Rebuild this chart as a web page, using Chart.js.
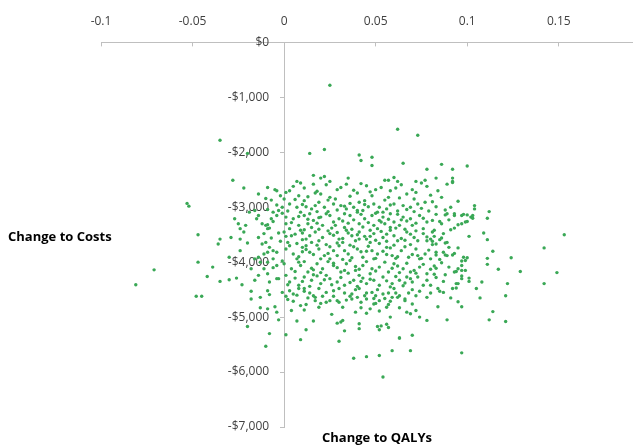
<!DOCTYPE html>
<html>
<head>
<meta charset="utf-8">
<script src="https://cdn.jsdelivr.net/npm/chart.js@4.4.0/dist/chart.umd.min.js"></script>
<style>
  html, body { margin: 0; padding: 0; background: #fff; }
</style>
</head>
<body>
<canvas id="scatterChart" width="636" height="448"></canvas>
<script>
var qalyChange = [
  // upper outliers
  -0.035,-0.028,-0.020,0.025,0.062,0.073,0.014,0.022,0.041,0.042,0.048,0.048,0.065,0.078,0.016,0.020,
  0.022,0.035,0.055,0.057,0.060,0.025,0.007,0.077,0.072,0.062,0.086,0.092,0.100,0.083,0.092,0.092,
  // left side
  -0.022,-0.014,-0.009,-0.005,-0.004,-0.010,-0.053,-0.052,-0.047,-0.036,
  -0.035,-0.047,-0.071,-0.081,-0.039,-0.042,-0.035,-0.030,-0.026,-0.023,
  -0.030,-0.029,-0.027,-0.025,-0.024,-0.021,-0.022,-0.024,-0.020,-0.024,
  -0.019,-0.016,-0.014,-0.015,-0.012,-0.010,-0.009,-0.009,-0.007,-0.004,
  -0.006,-0.003,-0.011,-0.014,-0.012,-0.010,-0.008,-0.009,-0.006,-0.011,
  -0.014,-0.016,-0.013,-0.009,-0.006,-0.011,-0.009,-0.014,-0.016,-0.018,
  -0.004,-0.004,-0.008,
  // core
  0.005,0.011,0.016,0.023,0.029,0.034,0.045,0.050,0.053,0.061,0.067,0.072,0.078,0.001,0.008,0.020,0.025,0.040,0.048,0.057,
  -0.000,0.003,0.007,0.011,0.015,0.019,0.022,0.027,0.031,0.034,0.038,0.041,0.043,0.049,0.052,0.056,0.060,0.065,0.069,0.073,0.077,-0.001,0.009,0.014,0.018,
  0.001,0.005,0.011,0.016,0.020,0.025,0.030,0.033,0.036,0.040,0.044,0.048,0.052,0.058,0.060,0.065,0.069,0.074,0.078,0.001,0.008,0.013,0.021,0.028,0.041,0.049,0.055,0.063,0.070,
  -0.000,0.004,0.009,0.012,0.017,0.021,0.025,0.030,0.034,0.037,0.041,0.045,0.049,0.054,0.058,0.062,0.067,0.071,0.076,0.078,0.002,0.015,0.032,0.047,0.060,0.039,
  0.001,0.005,0.010,0.014,0.019,0.022,0.027,0.030,0.035,0.040,0.043,0.048,0.051,0.056,0.059,0.064,0.068,0.072,0.077,0.007,0.025,0.049,0.074,
  -0.000,0.004,0.009,0.013,0.018,0.021,0.027,0.031,0.034,0.039,0.043,0.047,0.052,0.057,0.060,0.065,0.069,0.074,0.078,0.001,0.011,0.023,0.041,0.054,0.067,
  0.003,0.008,0.015,0.020,0.029,0.033,0.038,0.045,0.049,0.059,0.063,0.070,0.076,
  // core, second pass
  0.003,0.009,0.018,0.031,0.038,0.042,0.058,0.064,0.070,0.075,
  -0.007,-0.002,0.006,0.013,0.017,0.024,0.028,0.036,0.044,0.047,0.055,0.063,0.071,0.080,0.084,
  -0.009,-0.004,0.002,0.010,0.017,0.024,0.029,0.036,0.040,0.046,0.051,0.058,0.062,0.067,0.071,0.075,0.079,0.083,0.088,0.012,0.033,0.054,0.044,
  -0.006,-0.001,0.004,0.008,0.013,0.018,0.023,0.027,0.032,0.038,0.042,0.046,0.050,0.054,0.057,0.062,0.067,0.072,0.076,0.081,0.086,0.090,0.019,0.035,0.053,0.064,
  -0.008,-0.003,0.003,0.006,0.011,0.015,0.019,0.024,0.029,0.033,0.037,0.043,0.047,0.051,0.056,0.061,0.066,0.072,0.076,0.082,0.087,0.010,0.026,0.040,0.058,0.069,0.035,0.053,
  -0.007,-0.002,0.001,0.007,0.010,0.014,0.019,0.023,0.027,0.032,0.036,0.044,0.050,0.052,0.056,0.064,0.069,0.073,0.078,0.085,0.018,0.029,0.041,0.047,0.060,0.066,0.081,0.012,
  -0.004,0.003,0.008,0.012,0.016,0.020,0.025,0.029,0.033,0.037,0.042,0.046,0.050,0.054,0.058,0.062,0.066,0.070,0.075,0.079,0.085,0.089,0.010,0.024,0.038,0.045,0.061,0.073,0.032,0.056,
  -0.006,-0.001,0.006,0.011,0.015,0.020,0.024,0.029,0.033,0.036,0.041,0.045,0.050,0.055,0.059,0.063,0.067,0.071,0.076,0.080,0.086,0.090,0.016,0.027,0.039,0.048,0.062,0.072,0.008,0.035,
  -0.003,0.002,0.006,0.010,0.014,0.018,0.022,0.026,0.031,0.036,0.040,0.043,0.047,0.052,0.056,0.061,0.065,0.069,0.073,0.078,0.083,0.088,0.025,0.042,0.058,0.016,0.066,
  0.002,0.007,0.013,0.021,0.027,0.034,0.044,0.049,0.055,0.061,0.066,0.072,0.080,0.036,0.017,
  // right side
  0.089,0.092,0.086,0.081,0.091,0.095,0.083,0.088,0.089,0.093,
  0.093,0.097,0.098,0.100,0.102,0.104,0.104,0.103,0.103,0.112,
  0.111,0.085,0.091,0.093,0.095,0.097,0.099,0.100,0.081,0.082,
  0.080,0.086,0.088,0.089,0.083,0.081,0.101,0.109,0.111,0.090,
  0.095,0.083,0.087,0.088,0.092,0.093,0.083,0.098,0.100,0.097,
  0.099,0.080,0.111,0.114,0.124,0.111,0.097,0.082,0.083,0.097,
  0.099,0.095,0.093,0.094,0.082,0.101,0.101,0.097,0.097,0.117,
  0.129,0.108,0.122,0.142,0.149,0.142,0.153,0.094,0.095,0.080,
  0.087,
  // lower left
  -0.048,-0.045,-0.018,-0.018,-0.013,-0.009,-0.008,-0.013,-0.009,-0.005,-0.004,-0.003,-0.020,-0.008,-0.010,
  // lower middle
  -0.001,0.001,0.003,0.005,0.008,0.011,0.014,0.011,0.016,0.019,
  0.023,0.027,0.030,0.033,0.037,0.039,0.041,0.045,0.048,0.050,
  0.051,0.054,0.057,0.060,0.063,0.068,0.070,0.074,0.078,0.005,
  0.009,0.012,0.004,0.011,0.017,0.020,0.023,0.019,0.025,0.029,
  0.030,0.032,0.037,0.040,0.042,0.045,0.049,0.050,0.052,0.057,
  0.059,0.062,0.058,0.063,0.066,0.070,0.072,0.067,0.069,0.074,
  0.078,0.039,0.042,0.045,0.047,0.052,0.056,0.058,0.026,0.007,
  0.016,0.012,0.001,0.009,0.029,0.031,0.032,0.033,0.041,0.041,
  0.051,0.053,0.052,0.056,0.057,0.063,0.063,0.070,0.030,0.038,
  0.045,0.052,0.059,0.069,0.054,
  // lower right
  0.084,0.085,0.087,0.092,0.094,0.105,0.121,0.107,0.091,0.095,0.097,0.084,0.089,0.114,0.112,0.121,0.097
];
var costChange = [
  // upper outliers
  -1780,-2510,-2020,-780,-1580,-1690,-2020,-1950,-2050,-2150,-2090,-2240,-2200,-2310,-2420,-2470,
  -2440,-2470,-2510,-2510,-2460,-2530,-2530,-2510,-2530,-2530,-2220,-2310,-2250,-2470,-2470,-2530,
  // left side
  -2650,-2760,-2640,-2680,-2700,-2840,-2930,-2980,-3500,-3670,
  -3580,-4000,-4140,-4410,-4090,-4260,-4350,-4320,-4290,-4410,
  -3910,-3550,-3210,-3300,-3390,-3330,-3450,-3580,-3650,-3790,
  -3090,-3060,-3150,-3210,-3300,-3330,-3320,-3390,-3210,-3150,
  -3090,-3060,-3480,-3550,-3670,-3640,-3730,-3820,-3790,-3850,
  -3910,-3940,-4000,-4000,-3940,-4120,-4210,-4240,-4330,-4120,
  -4060,-4300,-4360,
  // core
  -2620,-2650,-2580,-2590,-2680,-2580,-2610,-2680,-2640,-2650,-2760,-2730,-2620,-2730,-2790,-2760,-2820,-2740,-2790,-2820,
  -2850,-2940,-3000,-2880,-3030,-2910,-3000,-2940,-2970,-3030,-3000,-2910,-3060,-2940,-3000,-3030,-2940,-2970,-3000,-2940,-2910,-3000,-3090,-3120,-3080,
  -3180,-3210,-3150,-3240,-3180,-3150,-3210,-3120,-3150,-3090,-3210,-3150,-3240,-3120,-3270,-3180,-3210,-3150,-3270,-3300,-3330,-3300,-3330,-3330,-3300,-3330,-3300,-3330,-3330,
  -3450,-3520,-3420,-3580,-3450,-3550,-3480,-3580,-3420,-3520,-3450,-3580,-3480,-3550,-3420,-3610,-3450,-3550,-3480,-3610,-3640,-3640,-3640,-3640,-3520,-3610,
  -3760,-3850,-3730,-3820,-3760,-3880,-3790,-3700,-3850,-3760,-3910,-3790,-3850,-3730,-3880,-3790,-3910,-3760,-3850,-3940,-3940,-3940,-3940,
  -4030,-4120,-4060,-4180,-4030,-4120,-4060,-4180,-4030,-4150,-4060,-4210,-4090,-4180,-4030,-4120,-4180,-4090,-4210,-4240,-4270,-4240,-4240,-4270,-4270,
  -4360,-4420,-4330,-4390,-4360,-4420,-4330,-4390,-4330,-4390,-4330,-4360,-4420,
  // core, second pass
  -2700,-2560,-2710,-2640,-2690,-2570,-2700,-2590,-2680,-2560,
  -2870,-2790,-2860,-2810,-2740,-2870,-2850,-2800,-2880,-2720,-2870,-2830,-2850,-2780,-2700,
  -3040,-2960,-3070,-2950,-2970,-3080,-3050,-2930,-3060,-2990,-3090,-2960,-3070,-3040,-3080,-3020,-3070,-2990,-3050,-2990,-2980,-3090,-2950,
  -3260,-3110,-3280,-3170,-3220,-3290,-3120,-3270,-3250,-3230,-3130,-3280,-3110,-3180,-3220,-3130,-3250,-3290,-3200,-3240,-3300,-3230,-3190,-3290,-3270,-3230,
  -3380,-3470,-3390,-3490,-3410,-3370,-3400,-3430,-3460,-3370,-3400,-3360,-3420,-3390,-3490,-3380,-3400,-3430,-3390,-3420,-3480,-3470,-3380,-3500,-3370,-3490,-3470,-3440,
  -3560,-3620,-3530,-3660,-3590,-3520,-3610,-3680,-3510,-3570,-3690,-3530,-3600,-3660,-3620,-3570,-3680,-3610,-3540,-3590,-3690,-3650,-3580,-3530,-3690,-3600,-3620,-3700,
  -3820,-3700,-3900,-3770,-3860,-3940,-3720,-3880,-3790,-3920,-3810,-3710,-3930,-3800,-3740,-3900,-3720,-3860,-3930,-3780,-3950,-3880,-3810,-3840,-3720,-3800,-3930,-3880,-3950,-3860,
  -4100,-3980,-4170,-3990,-4110,-4190,-3990,-4100,-4150,-3970,-4130,-3990,-4160,-4000,-4110,-4190,-4020,-4150,-4040,-4130,-4010,-4090,-4140,-4020,-4080,-4120,-4070,-4200,-4000,-4200,
  -4300,-4410,-4290,-4350,-4440,-4250,-4320,-4410,-4280,-4370,-4440,-4290,-4310,-4420,-4340,-4260,-4430,-4300,-4270,-4330,-4280,-4230,-4300,-4350,-4450,-4230,-4380,
  -4680,-4600,-4650,-4620,-4620,-4690,-4610,-4660,-4660,-4560,-4700,-4610,-4560,-4620,-4640,
  // right side
  -2580,-2550,-2820,-2900,-3000,-2890,-3130,-3140,-3120,-3150,
  -3120,-3150,-3130,-3140,-3180,-2970,-3030,-3150,-3200,-3080,
  -3200,-3260,-3410,-3380,-3320,-3300,-3270,-3260,-3450,-3530,
  -3580,-3560,-3650,-3640,-3670,-3680,-3530,-3470,-3590,-3730,
  -3740,-3820,-3820,-3870,-3870,-3840,-3870,-3910,-3920,-3980,
  -3970,-3940,-3930,-3800,-3920,-4040,-4060,-4070,-4110,-4150,
  -4150,-4120,-4180,-4170,-4220,-4290,-4350,-4250,-4300,-4130,
  -4170,-4360,-4390,-4390,-4190,-3740,-3500,-4390,-4390,-4420,
  -4350,
  // lower left
  -4620,-4620,-4530,-4670,-4640,-4520,-4590,-4830,-4850,-4810,-4910,-5050,-5170,-5300,-5530,
  // lower middle
  -4550,-4620,-4520,-4580,-4480,-4530,-4560,-4480,-4610,-4480,
  -4550,-4520,-4480,-4560,-4580,-4500,-4480,-4560,-4550,-4610,
  -4500,-4580,-4560,-4480,-4610,-4560,-4500,-4530,-4640,-4710,
  -4790,-4770,-4880,-4870,-4700,-4750,-4730,-4820,-4700,-4700,
  -4730,-4820,-4670,-4640,-4730,-4670,-4760,-4750,-4700,-4770,
  -4640,-4640,-4710,-4830,-4670,-4760,-4880,-4910,-4940,-5000,
  -5060,-4910,-4830,-4930,-4850,-4890,-4820,-5000,-4950,-5070,
  -5070,-5230,-5320,-5410,-5110,-5090,-5060,-5250,-5120,-5210,
  -5170,-5160,-5230,-5130,-5190,-5380,-5380,-5330,-5440,-5750,
  -5720,-5700,-5610,-5610,-6090,
  // lower right
  -4480,-4530,-4550,-4480,-4470,-4480,-4610,-4650,-4650,-4720,-4810,-4810,-5050,-4900,-5050,-5080,-5650
];
var xTicks = [-0.1, -0.05, 0, 0.05, 0.1, 0.15];
var yTicks = [0, -1000, -2000, -3000, -4000, -5000, -6000, -7000];
var xTitle = "Change to QALYs";
var yTitle = "Change to Costs";

var points = qalyChange.map((q, i) => ({ x: q, y: costChange[i] }));

var axisTitles = {
  id: "axisTitles",
  afterDraw: (chart) => {
    const c = chart.ctx;
    c.save();
    c.font = "bold 13px 'Open Sans'";
    c.fillStyle = "#000";
    c.textBaseline = "middle";
    c.textAlign = "left";
    c.fillText(yTitle, 8, 237);
    c.textAlign = "center";
    c.fillText(xTitle, 377, 438);
    c.restore();
  },
};

// cost labels sit left of the axis line, clear of the tick marks
var shiftCostLabels = {
  id: "shiftCostLabels",
  beforeDraw: (chart) => {
    chart.scales.y.getLabelItems().forEach((item) => {
      item.options.translation[0] -= 15;
    });
  },
};

var tickFont = { family: "'Open Sans'", size: 12 };

var ctxS = document.getElementById("scatterChart").getContext("2d");
var myScatter = new Chart(ctxS, {
  type: "scatter",
  plugins: [shiftCostLabels, axisTitles],
  data: {
    datasets: [
      {
        data: points,
        backgroundColor: "#3aa856",
        borderWidth: 0,
        pointRadius: 1.7,
      },
    ],
  },
  options: {
    responsive: false,
    animation: false,
    layout: { padding: { left: 101, right: 1, top: -4, bottom: 21 } },
    plugins: {
      legend: { display: false },
      tooltip: { enabled: false },
    },
    scales: {
      x: {
        type: "linear",
        position: "top",
        min: -0.1,
        max: 0.19,
        afterBuildTicks: (scale) => {
          scale.ticks = xTicks.map((v) => ({ value: v }));
        },
        // negative length: tick marks hang below the axis line
        grid: { drawOnChartArea: false, tickLength: -4, color: "#bfbfbf" },
        border: { color: "#bfbfbf" },
        ticks: {
          color: "#404040",
          font: tickFont,
          padding: 18,
          callback: (v) => String(Math.round(v * 100) / 100),
        },
      },
      y: {
        type: "linear",
        position: { x: 0 },
        min: -7000,
        max: 0,
        afterBuildTicks: (scale) => {
          scale.ticks = yTicks.map((v) => ({ value: v }));
        },
        grid: { drawOnChartArea: false, tickLength: 4, color: "#bfbfbf" },
        border: { color: "#bfbfbf" },
        ticks: {
          color: "#404040",
          font: tickFont,
          callback: (v) => (v < 0 ? "-" : "") + "$" + Math.abs(v).toLocaleString("en-US"),
        },
      },
    },
  },
});
</script>
</body>
</html>
